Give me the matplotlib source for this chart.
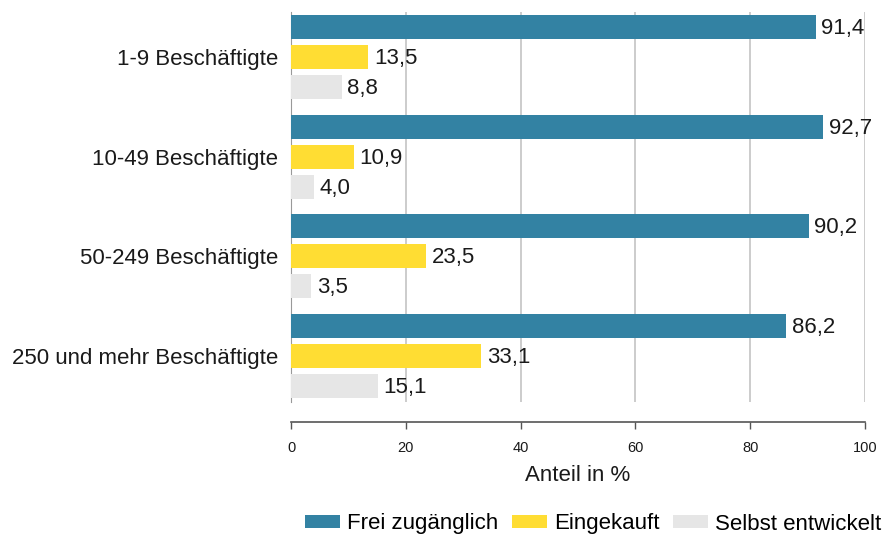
import numpy as np
import matplotlib
matplotlib.use('Agg')
import matplotlib.pyplot as plt

plt.rcParams['font.family'] = ['Liberation Sans', 'DejaVu Sans']

categories = ['1-9 Beschäftigte', '10-49 Beschäftigte', '50-249 Beschäftigte',
              '250 und mehr Beschäftigte']
series = ['Frei zugänglich', 'Eingekauft', 'Selbst entwickelt']
frei = [91.4, 92.7, 90.2, 86.2]
eingekauft = [13.5, 10.9, 23.5, 33.1]
selbst = [8.8, 4.0, 3.5, 15.1]
colors = ['#3382a3', '#ffdd33', '#e6e6e6']

fig = plt.figure(figsize=(8.85, 5.38), dpi=100)
ax = fig.add_axes([291 / 885, 1 - 402 / 538, 574 / 885, 390 / 538])

y = np.arange(len(categories))
offsets = [-0.3, 0.0, 0.3]
for vals, off, col, name in zip([frei, eingekauft, selbst], offsets, colors, series):
    bars = ax.barh(y + off, vals, height=0.24, color=col, label=name, zorder=3)
    for b, v in zip(bars, vals):
        ax.text(v + 1.0, b.get_y() + b.get_height() / 2 + 0.015, f'{v:.1f}'.replace('.', ','),
                va='center', ha='left', fontsize=16, color='#1a1a1a', zorder=4)

ax.set_xlim(0, 100)
ax.set_ylim(3.46, -0.45)
ax.set_yticks(y)
ax.set_yticklabels(categories, fontsize=16, color='#1a1a1a')
ax.tick_params(axis='y', length=0, pad=9)
ax.set_xticks([0, 20, 40, 60, 80, 100])
ax.tick_params(axis='x', length=5, width=1, color='#555555', labelsize=10.5, pad=9,
               labelcolor='#1a1a1a')
ax.grid(axis='x', color='#c4c4c4', linewidth=1.2, zorder=0)
ax.set_axisbelow(True)

for s in ['top', 'right']:
    ax.spines[s].set_visible(False)
ax.spines['left'].set_color('#999999')
ax.spines['bottom'].set_position(('outward', 14.4))
ax.spines['bottom'].set_color('#555555')
ax.spines['bottom'].set_linewidth(1.2)

ax.set_xlabel('Anteil in %', fontsize=16, color='#1a1a1a', labelpad=7)

handles, labels = ax.get_legend_handles_labels()
fig.legend(handles, labels, loc='center', bbox_to_anchor=(593 / 885, 1 - 524 / 538),
           ncol=3, frameon=False, fontsize=16, handlelength=1.6, handleheight=0.55,
           columnspacing=0.6, handletextpad=0.3, borderpad=0, borderaxespad=0)

fig.savefig('out.png', dpi=100)
